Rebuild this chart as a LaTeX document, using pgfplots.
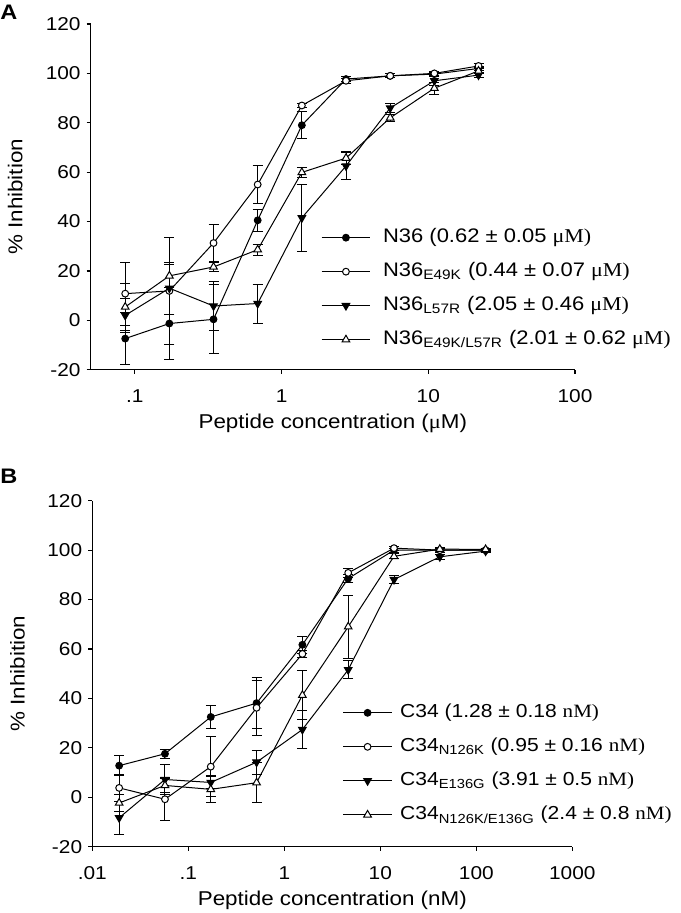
\documentclass[border=0pt]{standalone}
\usepackage{pgfplots}
\pgfplotsset{compat=1.18}
\usepackage{pgfplotstable}
\usepackage{fontspec}
\setmainfont{Liberation Sans}[FakeStretch=1.12]
\newfontfamily\tms{Liberation Serif}[FakeStretch=1.12]

% Panel A
\pgfplotstableread{
x y e
0.0859375 -7.4 10.6
0.171875 -1.3 14.6
0.34375 0.4 14.0
0.6875 40.5 4.5
1.375 79.0 5.5
2.75 97.7 1.0
5.5 99.0 0.8
11 99.7 0.8
22 102.0 0.8
}\Aa
\pgfplotstableread{
x y e
0.0859375 10.8 12.8
0.171875 11.9 21.5
0.34375 31.3 7.6
0.6875 55.0 7.8
1.375 87.0 1.0
2.75 97.0 1.0
5.5 99.0 0.8
11 100.0 0.8
22 103.0 0.8
}\Ab
\pgfplotstableread{
x y e
0.0859375 2.0 7.0
0.171875 13.0 10.5
0.34375 5.8 10.0
0.6875 6.8 7.9
1.375 41.5 13.7
2.75 62.5 5.6
5.5 86.0 2.0
11 97.0 2.0
22 99.3 1.0
}\Ac
\pgfplotstableread{
x y e
0.0859375 5.4 9.5
0.171875 18.0 4.7
0.34375 21.6 2.0
0.6875 28.6 2.3
1.375 59.9 2.0
2.75 65.7 2.8
5.5 82.0 1.5
11 94.0 2.5
22 101.0 1.0
}\Ad

% Panel B
\pgfplotstableread{
x y e
0.01905 12.8 4.0
0.05716 17.6 1.8
0.1715 32.5 4.5
0.5144 38.1 10.2
1.543 61.7 3.5
4.630 88.5 1.5
13.89 100.0 0.8
41.67 100.0 0.8
125 100.0 0.5
}\Ba
\pgfplotstableread{
x y e
0.01905 3.8 5.5
0.05716 -0.8 8.7
0.1715 12.4 12.2
0.5144 36.2 11.2
1.543 58.0 1.5
4.630 90.8 1.8
13.89 100.8 0.8
41.67 100.0 0.8
125 100.0 0.5
}\Bb
\pgfplotstableread{
x y e
0.01905 -8.3 6.6
0.05716 7.2 6.0
0.1715 6.0 2.5
0.5144 14.2 4.8
1.543 27.4 7.6
4.630 51.6 3.6
13.89 88.1 1.6
41.67 97.3 1.0
125 99.6 0.5
}\Bc
\pgfplotstableread{
x y e
0.01905 -2.3 3.5
0.05716 4.8 3.0
0.1715 3.2 5.5
0.5144 5.9 8.2
1.543 41.3 10.0
4.630 69.0 12.7
13.89 97.5 1.0
41.67 100.4 0.5
125 100.3 0.5
}\Bd

\pgfplotsset{
  panel/.style={
    scale only axis,
    axis lines*=left,
    axis line style={line width=0.65pt,-},
    ymin=-20, ymax=120,
    ytick={-20,0,20,40,60,80,100,120},
    yticklabels={-20,0,20,40,60,80,100,120},
    tick align=outside,
    major tick length=2pt,
    xminorticks=false,
    tick style={line width=0.6pt,black},
    /pgf/number format/assume math mode=true,
    tick label style={font=\fontsize{9.3}{11}\selectfont},
    xticklabel style={inner sep=0pt,anchor=north,yshift=-7.8pt},
    yticklabel style={inner sep=0pt,anchor=east,xshift=-2.9pt},
    label style={font=\fontsize{11}{13}\selectfont},
    every axis y label/.style={at={(axis description cs:-0.156,0.5)},rotate=90,anchor=center},
    every axis x label/.style={at={(axis description cs:0.5,-0.1695)},anchor=base},
    clip=false,
    legend cell align=left,
    legend style={draw=none,fill=none,inner sep=0pt,row sep=7pt,
      nodes={inner sep=0pt,text height=7.5pt,text depth=2.5pt}},
  },
  legA/.style={
    legend image code/.code={
      \draw[mark repeat=2,mark phase=2,##1] plot coordinates {(0pt,0pt) (12.15pt,0pt) (24.3pt,0pt)};
      \path (30.5pt,0pt);
    },
    legend style={font=\fontsize{9.8}{12}\selectfont},
  },
  legB/.style={
    legend image code/.code={
      \draw[mark repeat=2,mark phase=2,##1] plot coordinates {(0pt,0pt) (12.15pt,0pt) (24.3pt,0pt)};
      \path (28.2pt,0pt);
    },
    legend style={font=\fontsize{9.4}{12}\selectfont},
  },
  eb/.style={error bars/.cd, y dir=both, y explicit,
    error bar style={line width=0.5pt,black,solid},
    error mark options={line width=0.5pt,black,mark size=2.5pt,rotate=90}},
  s1/.style={black,line width=0.5pt,mark=*,mark size=1.7pt,mark options={solid,fill=black},eb},
  s2/.style={black,line width=0.5pt,mark=*,mark size=1.7pt,mark options={solid,fill=white},eb},
  s3/.style={black,line width=0.5pt,mark=triangle*,mark size=2.2pt,mark options={solid,fill=black,rotate=180},eb},
  s4/.style={black,line width=0.5pt,mark=triangle*,mark size=2.2pt,mark options={solid,fill=white},eb},
}

\begin{document}
\begin{tikzpicture}
\useasboundingbox (0,0) rectangle (340pt,-456.5pt);

\node[anchor=base west,inner sep=0pt,font=\bfseries\fontsize{10.5}{12}\selectfont] at (0pt,-10pt) {A};
\node[anchor=base west,inner sep=0pt,font=\bfseries\fontsize{10.5}{12}\selectfont] at (0pt,-241.65pt) {B};

\begin{axis}[xmode=log, panel, legA,
  at={(45.35pt,-184.85pt)}, anchor=south west,
  width=242.15pt, height=172.85pt,
  xmin=0.05, xmax=100,
  xtick={0.1,1,10,100}, xticklabels={.1,1,10,100},
  xlabel={Peptide concentration ({\tms μ}M)},
  ylabel={\% Inhibition},
  legend style={at={(rel axis cs:0.475,0.412)},anchor=north west},
]
\addplot+[s1] table[x=x,y=y,y error=e] {\Aa};
\addlegendentry{N36 (0.62 ± 0.05 {\tms μM)}}
\addplot+[s2] table[x=x,y=y,y error=e] {\Ab};
\addlegendentry{N36\textsubscript{E49K} (0.44 ± 0.07 {\tms μM)}}
\addplot+[s3] table[x=x,y=y,y error=e] {\Ac};
\addlegendentry{N36\textsubscript{L57R} (2.05 ± 0.46 {\tms μM)}}
\addplot+[s4] table[x=x,y=y,y error=e] {\Ad};
\addlegendentry{N36\textsubscript{E49K/L57R} (2.01 ± 0.62 {\tms μM)}}
\end{axis}

\begin{axis}[xmode=log, panel, legB,
  at={(46.15pt,-423.35pt)}, anchor=south west,
  width=240pt, height=173pt,
  xmin=0.01, xmax=1000,
  xtick={0.01,0.1,1,10,100,1000}, xticklabels={.01,.1,1,10,100,1000},
  xlabel={Peptide concentration (nM)},
  ylabel={\% Inhibition},
  legend style={at={(rel axis cs:0.521,0.417)},anchor=north west},
]
\addplot+[s1] table[x=x,y=y,y error=e] {\Ba};
\addlegendentry{C34 (1.28 ± 0.18 {\tms nM)}}
\addplot+[s2] table[x=x,y=y,y error=e] {\Bb};
\addlegendentry{C34\textsubscript{N126K} (0.95 ± 0.16 {\tms nM)}}
\addplot+[s3] table[x=x,y=y,y error=e] {\Bc};
\addlegendentry{C34\textsubscript{E136G} (3.91 ± 0.5 {\tms nM)}}
\addplot+[s4] table[x=x,y=y,y error=e] {\Bd};
\addlegendentry{C34\textsubscript{N126K/E136G} (2.4 ± 0.8 {\tms nM)}}
\end{axis}
\end{tikzpicture}
\end{document}
